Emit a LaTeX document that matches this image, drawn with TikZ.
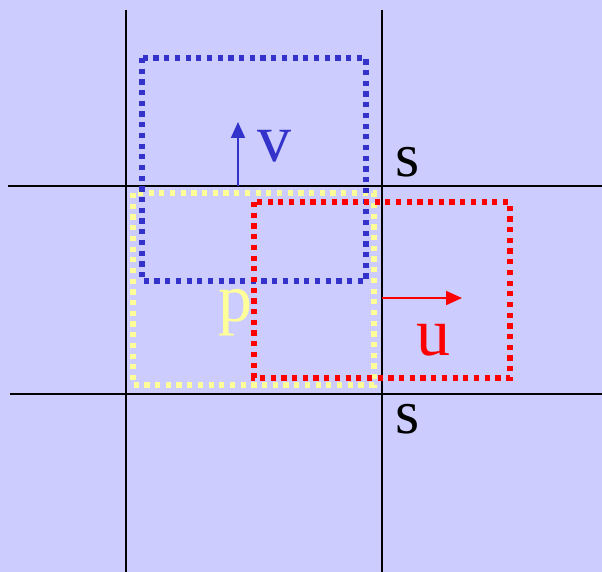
\documentclass[tikz,border=0pt]{standalone}
\usepackage{fontspec}
\setmainfont{Liberation Serif}
\usetikzlibrary{arrows.meta}
\definecolor{bg}{HTML}{CCCCFF}
\definecolor{bluebox}{HTML}{3333CC}
\definecolor{redbox}{HTML}{FF0000}
\definecolor{yellowbox}{HTML}{FFFF99}
\begin{document}
\begin{tikzpicture}[x=1pt,y=-1pt,
  gridline/.style={black,line width=1.8pt},
  dotbox/.style={line width=5.2pt,dash pattern=on 5.2pt off 5.5pt},
  vec/.style={line width=2pt,-{Triangle[length=16pt,width=14pt]}},
  lbl/.style={inner sep=0pt,anchor=base,font=\fontsize{68}{70}\selectfont},
  slbl/.style={inner sep=0pt,anchor=base,font=\fontsize{62}{64}\selectfont}]
\fill[bg] (0,0) rectangle (602,572);
\useasboundingbox (0,0) rectangle (602,572);
% grid lines
\draw[gridline] (126,10) -- (126,572);
\draw[gridline] (382,10) -- (382,572);
\draw[gridline] (8,186) -- (602,186);
\draw[gridline] (10,394) -- (602,394);
% boxes
\draw[dotbox,yellowbox] (133,193) rectangle (374,385);
\draw[dotbox,bluebox] (142,58) rectangle (366,281);
\draw[dotbox,redbox] (254,202) rectangle (510,378);
% arrows
\coordinate (vs) at (238,186);
\coordinate (ve) at (238,122);
\coordinate (us) at (382,298);
\coordinate (ue) at (462,298);
\draw[vec,bluebox] (vs) -- (ve);
\draw[vec,redbox] (us) -- (ue);
% labels
\node[lbl,text=bluebox] (v) at (274,162) {v};
\node[lbl,text=redbox] (u) at (433,355) {u};
\node[lbl,text=yellowbox] (p) at (235,321) {p};
\node[slbl] (s1) at (408,177) {s};
\node[slbl] (s2) at (408,433) {s};
\end{tikzpicture}
\end{document}
